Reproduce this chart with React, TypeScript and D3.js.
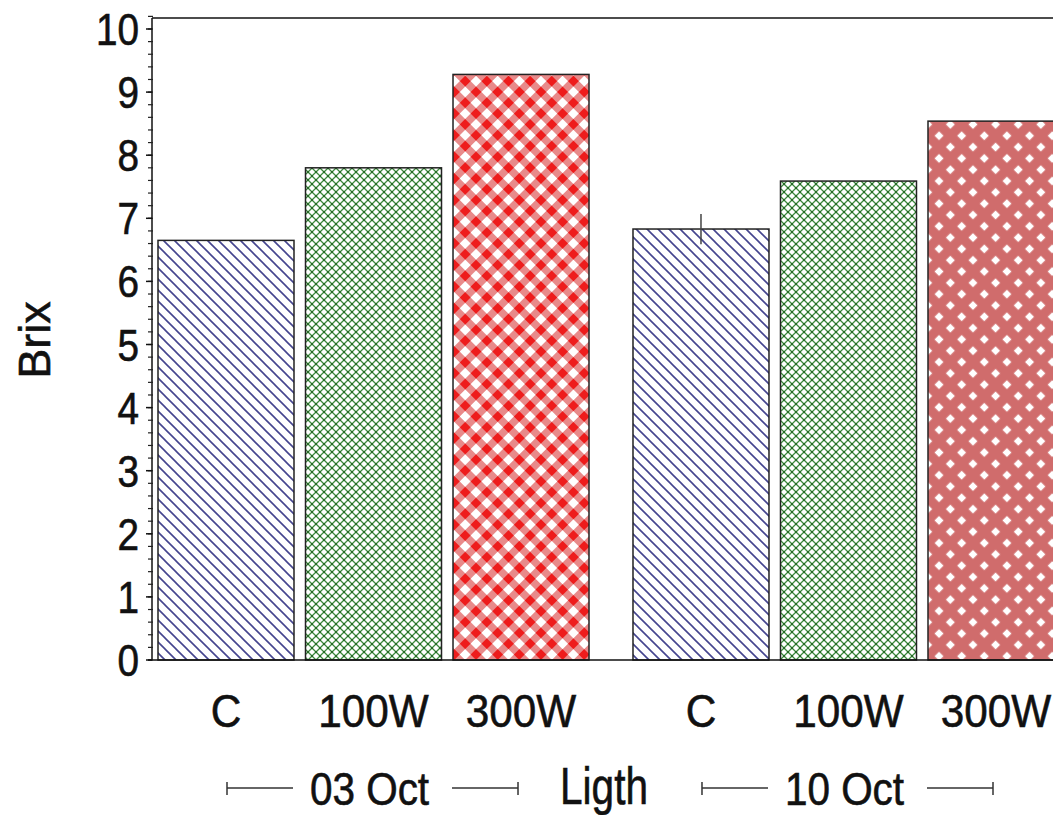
import React from "react";
import * as d3 from "d3";

const dates = ["03 Oct", "10 Oct"];
const treatments = ["C", "100W", "300W"];
const brix03 = [6.65, 7.8, 9.28];
const brix10 = [6.83, 7.59, 8.54];
const err03 = [0, 0, 0];
const err10 = [0.24, 0, 0];
const yTicks = [0, 1, 2, 3, 4, 5, 6, 7, 8, 9, 10];
const xTitle = "Ligth";
const yTitle = "Brix";

const W = 1053;
const H = 815;
const FONT = "'Liberation Sans', Arial, sans-serif";
const TXT = { fill: "#111", stroke: "#111", strokeWidth: 0.6, fontFamily: FONT } as const;

export default function App() {
  const y = d3.scaleLinear().domain([0, 10]).range([660, 29]);
  const xOuter = d3.scaleBand<string>().domain(dates).range([158, 1064]).paddingInner(0.0926).paddingOuter(0);
  const xInner = d3.scaleBand<string>().domain(treatments).range([0, xOuter.bandwidth()]).paddingInner(0.078).paddingOuter(0);
  const series = [brix03, brix10];
  const errs = [err03, err10];
  const fills = [
    ["url(#pC)", "url(#p100)", "url(#p300a)"],
    ["url(#pC)", "url(#p100)", "url(#p300b)"],
  ];
  const minor = d3.range(0, 10.2001, 0.2);
  const axisX = 152;
  const topY = 18;

  const bars: any[] = [];
  dates.forEach((d, gi) => {
    treatments.forEach((t, ti) => {
      const x0 = (xOuter(d) as number) + (xInner(t) as number);
      const v = series[gi][ti];
      const e = errs[gi][ti];
      const cx = x0 + xInner.bandwidth() / 2;
      bars.push(
        <g key={d + t}>
          <rect x={x0} y={y(v)} width={xInner.bandwidth()} height={y(0) - y(v)} fill={fills[gi][ti]} stroke="#222" strokeWidth={1.5} />
          {e > 0 && <line x1={cx} x2={cx} y1={y(v + e)} y2={y(v - e)} stroke="#444" strokeWidth={1.5} />}
          <text transform={`translate(${cx},727) scale(0.9,1)`} textAnchor="middle" fontSize={47} {...TXT}>{t}</text>
        </g>
      );
    });
  });

  const brackets = dates.map((d) => {
    const a = xOuter(d) as number;
    const b = a + xOuter.bandwidth();
    const cx = (a + b) / 2;
    const l1 = a + 69;
    const r1 = b - 71;
    return (
      <g key={"br" + d}>
        <line x1={l1} x2={l1 + 66} y1={788} y2={788} stroke="#333" strokeWidth={1.5} />
        <line x1={l1} x2={l1} y1={782} y2={795} stroke="#333" strokeWidth={1.5} />
        <line x1={r1 - 66} x2={r1} y1={788} y2={788} stroke="#333" strokeWidth={1.5} />
        <line x1={r1} x2={r1} y1={782} y2={795} stroke="#333" strokeWidth={1.5} />
        <text transform={`translate(${cx - 4},805) scale(0.88,1)`} textAnchor="middle" fontSize={46} {...TXT}>{d}</text>
      </g>
    );
  });

  return (
    <svg width={W} height={H} style={{ position: "absolute", left: 0, top: 0, background: "#fff" }} overflow="hidden">
      <defs>
        <pattern id="pC" patternUnits="userSpaceOnUse" width={11} height={11}>
          <rect width={11} height={11} fill="#fff" />
          <path d="M-1,-1L12,12M-1,10L1,12M10,-1L12,1" stroke="#45458f" strokeWidth={1.6} />
        </pattern>
        <pattern id="p100" patternUnits="userSpaceOnUse" width={8} height={8}>
          <rect width={8} height={8} fill="#fff" />
          <path d="M0,0L8,8M8,0L0,8" stroke="#3c8a3c" strokeWidth={1.3} />
          <circle cx={0} cy={0} r={1} fill="#1f5f1f" />
          <circle cx={8} cy={0} r={1} fill="#1f5f1f" />
          <circle cx={0} cy={8} r={1} fill="#1f5f1f" />
          <circle cx={8} cy={8} r={1} fill="#1f5f1f" />
          <circle cx={4} cy={4} r={1} fill="#1f5f1f" />
        </pattern>
        <pattern id="p300a" patternUnits="userSpaceOnUse" width={15.3} height={15.3} patternTransform="rotate(45)">
          <rect width={15.3} height={15.3} fill="#fff" />
          <rect x={0} y={0} width={7.65} height={15.3} fill="#e88a8a" />
          <rect x={0} y={0} width={15.3} height={7.65} fill="#e88a8a" />
          <rect x={0} y={0} width={7.65} height={7.65} fill="#ee1c1c" />
        </pattern>
        <pattern id="p300b" patternUnits="userSpaceOnUse" width={16} height={16} patternTransform="rotate(45)">
          <rect width={16} height={16} fill="#d06c6c" />
          <rect x={4.8} y={4.8} width={6.4} height={6.4} fill="#fff" />
        </pattern>
      </defs>

      {bars}

      <line x1={axisX} x2={W} y1={topY} y2={topY} stroke="#111" strokeWidth={1.5} />
      <line x1={axisX} x2={axisX} y1={topY} y2={y(0)} stroke="#111" strokeWidth={1.5} />
      <line x1={axisX - 4} x2={W} y1={y(0)} y2={y(0)} stroke="#111" strokeWidth={1.5} />
      {minor.map((m, i) => (
        <line key={"mn" + i} x1={axisX - 4} x2={axisX + 1} y1={y(m)} y2={y(m)} stroke="#222" strokeWidth={1.2} />
      ))}
      {yTicks.map((t) => (
        <g key={"yt" + t}>
          <line x1={axisX - 6} x2={axisX} y1={y(t)} y2={y(t)} stroke="#111" strokeWidth={1.5} />
          <text transform={`translate(139,${y(t) + 16}) scale(0.88,1)`} textAnchor="end" fontSize={44} {...TXT}>{t}</text>
        </g>
      ))}

      <text transform="translate(50,340) rotate(-90)" textAnchor="middle" fontSize={45} {...TXT}>{yTitle}</text>

      {brackets}
      <text transform="translate(604,804) scale(0.78,1)" textAnchor="middle" fontSize={52} {...TXT}>{xTitle}</text>
    </svg>
  );
}
